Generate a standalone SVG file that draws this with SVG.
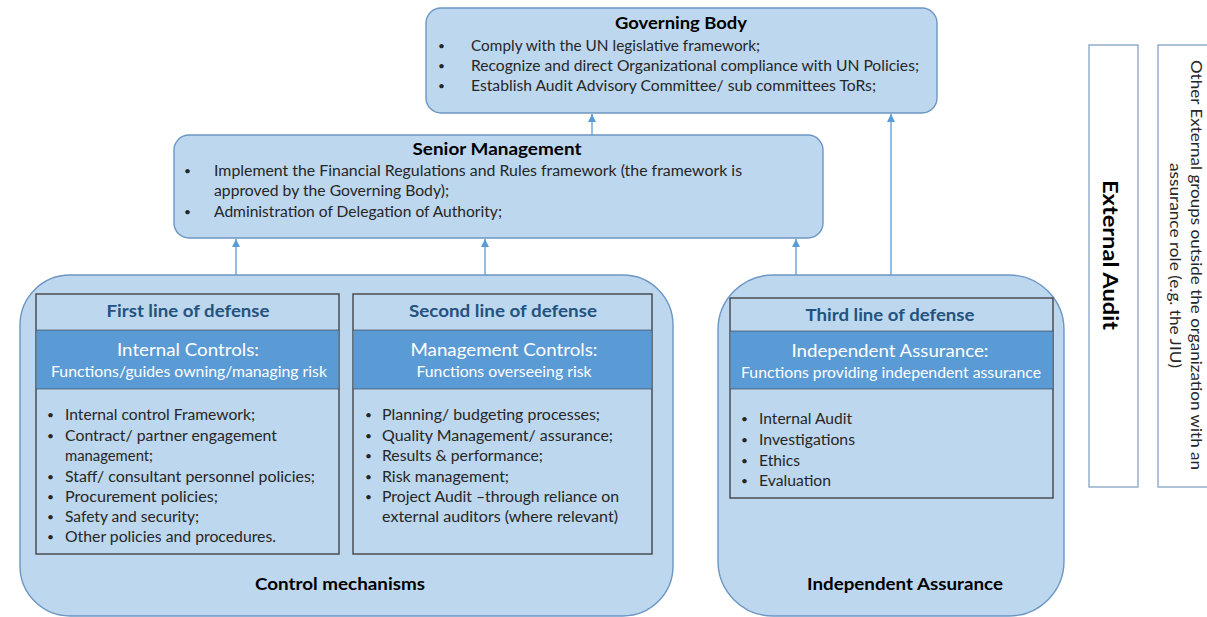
<svg xmlns="http://www.w3.org/2000/svg" width="1207" height="617" viewBox="0 0 1207 617">
<defs>
<marker id="ah" markerUnits="userSpaceOnUse" markerWidth="9" markerHeight="9" refX="8" refY="4" orient="auto">
<path d="M0,0 L8,4 L0,8 z" fill="#5B9BD5"/>
</marker>
<style>
text{font-family:Lato,"Liberation Sans",sans-serif;}
.node{fill:#BDD7EE;stroke:#6C96C4;stroke-width:1.4;}
.lod{fill:#BDD7EE;stroke:#3A3A3A;stroke-width:1.3;}
.band{fill:#5B9BD5;}
.ext{fill:#FFFFFF;stroke:#8EA9C8;stroke-width:1.4;}
.title{font-weight:bold;font-size:17px;fill:#000;text-anchor:middle;}
.body{font-size:14.5px;fill:#262626;}
.bul{font-size:12px;fill:#262626;}
.hdr{font-weight:bold;font-size:17.5px;fill:#24527E;text-anchor:middle;}
.wt1{font-size:18px;fill:#FFFFFF;text-anchor:middle;}
.wt2{font-size:14.5px;fill:#FFFFFF;text-anchor:middle;}
.conn{stroke:#5B9BD5;stroke-width:1.3;fill:none;marker-end:url(#ah);}
</style>
</defs>
<rect width="1207" height="617" fill="#FFFFFF"/>

<g id="control-mechanisms">
<rect class="node" x="20" y="275" width="653" height="341" rx="50" ry="50"/>
<text class="title" x="340" y="590" textLength="170" lengthAdjust="spacingAndGlyphs">Control mechanisms</text>
</g>

<g id="independent-assurance">
<rect class="node" x="718" y="275" width="346" height="341" rx="55" ry="55"/>
<text class="title" x="905" y="590" textLength="196" lengthAdjust="spacingAndGlyphs">Independent Assurance</text>
</g>

<g id="governing-body">
<rect class="node" x="426" y="8" width="511" height="105" rx="15" ry="15"/>
<text class="title" x="681" y="29" textLength="132" lengthAdjust="spacingAndGlyphs">Governing Body</text>
<text class="bul" x="438" y="50">•</text>
<text class="body" x="471" y="51" textLength="289" lengthAdjust="spacingAndGlyphs">Comply with the UN legislative framework;</text>
<text class="bul" x="438" y="70">•</text>
<text class="body" x="471" y="71" textLength="448" lengthAdjust="spacingAndGlyphs">Recognize and direct Organizational compliance with UN Policies;</text>
<text class="bul" x="438" y="90">•</text>
<text class="body" x="471" y="91" textLength="405" lengthAdjust="spacingAndGlyphs">Establish Audit Advisory Committee/ sub committees ToRs;</text>
</g>

<g id="senior-management">
<rect class="node" x="174" y="135" width="649" height="103" rx="15" ry="15"/>
<text class="title" x="497" y="155" textLength="169" lengthAdjust="spacingAndGlyphs">Senior Management</text>
<text class="bul" x="184" y="175">•</text>
<text class="body" x="214" y="176" textLength="528" lengthAdjust="spacingAndGlyphs">Implement the Financial Regulations and Rules framework (the framework is</text>
<text class="body" x="214" y="196" textLength="235" lengthAdjust="spacingAndGlyphs">approved by the Governing Body);</text>
<text class="bul" x="184" y="216">•</text>
<text class="body" x="214" y="217" textLength="288" lengthAdjust="spacingAndGlyphs">Administration of Delegation of Authority;</text>
</g>

<g id="first-line">
<rect class="lod" x="36" y="294" width="303" height="260"/>
<rect class="band" x="36.6" y="330" width="301.8" height="59"/>
<line x1="36" y1="330" x2="339" y2="330" stroke="#3A3A3A" stroke-width="0.6"/>
<line x1="36" y1="389" x2="339" y2="389" stroke="#3A3A3A" stroke-width="0.6"/>
<text class="hdr" x="188" y="317" textLength="163" lengthAdjust="spacingAndGlyphs">First line of defense</text>
<text class="wt1" x="188" y="356" textLength="142" lengthAdjust="spacingAndGlyphs">Internal Controls:</text>
<text class="wt2" x="189" y="377" textLength="276" lengthAdjust="spacingAndGlyphs">Functions/guides owning/managing risk</text>
<text class="bul" x="47" y="419">•</text>
<text class="body" x="65" y="420" textLength="190" lengthAdjust="spacingAndGlyphs">Internal control Framework;</text>
<text class="bul" x="47" y="440">•</text>
<text class="body" x="65" y="441" textLength="212" lengthAdjust="spacingAndGlyphs">Contract/ partner engagement</text>
<text class="body" x="65" y="461" textLength="88" lengthAdjust="spacingAndGlyphs">management;</text>
<text class="bul" x="47" y="481">•</text>
<text class="body" x="65" y="482" textLength="250" lengthAdjust="spacingAndGlyphs">Staff/ consultant personnel policies;</text>
<text class="bul" x="47" y="501">•</text>
<text class="body" x="65" y="502" textLength="153" lengthAdjust="spacingAndGlyphs">Procurement  policies;</text>
<text class="bul" x="47" y="521">•</text>
<text class="body" x="65" y="522" textLength="134" lengthAdjust="spacingAndGlyphs">Safety and security;</text>
<text class="bul" x="47" y="541">•</text>
<text class="body" x="65" y="542" textLength="211" lengthAdjust="spacingAndGlyphs">Other policies and procedures.</text>
</g>

<g id="second-line">
<rect class="lod" x="353" y="294" width="299" height="260"/>
<rect class="band" x="353.6" y="330" width="297.8" height="59"/>
<line x1="353" y1="330" x2="652" y2="330" stroke="#3A3A3A" stroke-width="0.6"/>
<line x1="353" y1="389" x2="652" y2="389" stroke="#3A3A3A" stroke-width="0.6"/>
<text class="hdr" x="503" y="317" textLength="188" lengthAdjust="spacingAndGlyphs">Second line of defense</text>
<text class="wt1" x="504" y="356" textLength="187" lengthAdjust="spacingAndGlyphs">Management Controls:</text>
<text class="wt2" x="504" y="377" textLength="175" lengthAdjust="spacingAndGlyphs">Functions overseeing risk</text>
<text class="bul" x="365" y="419">•</text>
<text class="body" x="382" y="420" textLength="218" lengthAdjust="spacingAndGlyphs">Planning/ budgeting processes;</text>
<text class="bul" x="365" y="440">•</text>
<text class="body" x="382" y="441" textLength="231" lengthAdjust="spacingAndGlyphs">Quality Management/ assurance;</text>
<text class="bul" x="365" y="460">•</text>
<text class="body" x="382" y="461" textLength="161" lengthAdjust="spacingAndGlyphs">Results &amp; performance;</text>
<text class="bul" x="365" y="481">•</text>
<text class="body" x="382" y="482" textLength="127" lengthAdjust="spacingAndGlyphs">Risk management;</text>
<text class="bul" x="365" y="501">•</text>
<text class="body" x="382" y="502" textLength="237" lengthAdjust="spacingAndGlyphs">Project Audit –through reliance on</text>
<text class="body" x="382" y="522" textLength="236" lengthAdjust="spacingAndGlyphs">external auditors (where relevant)</text>
</g>

<g id="third-line">
<rect class="lod" x="730" y="298" width="323" height="200"/>
<rect class="band" x="730.6" y="331" width="321.8" height="58"/>
<line x1="730" y1="331" x2="1053" y2="331" stroke="#3A3A3A" stroke-width="0.6"/>
<line x1="730" y1="389" x2="1053" y2="389" stroke="#3A3A3A" stroke-width="0.6"/>
<text class="hdr" x="890" y="321" textLength="169" lengthAdjust="spacingAndGlyphs">Third line of defense</text>
<text class="wt1" x="890" y="357" textLength="197" lengthAdjust="spacingAndGlyphs">Independent Assurance:</text>
<text class="wt2" x="891" y="378" textLength="300" lengthAdjust="spacingAndGlyphs">Functions providing independent assurance</text>
<text class="bul" x="741" y="423">•</text>
<text class="body" x="759" y="424" textLength="93" lengthAdjust="spacingAndGlyphs">Internal Audit</text>
<text class="bul" x="741" y="444">•</text>
<text class="body" x="759" y="445" textLength="96" lengthAdjust="spacingAndGlyphs">Investigations</text>
<text class="bul" x="741" y="465">•</text>
<text class="body" x="759" y="466" textLength="41" lengthAdjust="spacingAndGlyphs">Ethics</text>
<text class="bul" x="741" y="485">•</text>
<text class="body" x="759" y="486" textLength="72" lengthAdjust="spacingAndGlyphs">Evaluation</text>
</g>

<g id="external-audit">
<rect class="ext" x="1089" y="45" width="49" height="442"/>
<text transform="translate(1103,255) rotate(90)" x="0" y="0" text-anchor="middle" font-weight="bold" font-size="21" fill="#000" textLength="150" lengthAdjust="spacingAndGlyphs">External Audit</text>
</g>

<g id="other-external">
<rect class="ext" x="1158" y="45" width="60" height="442"/>
<text transform="translate(1191,265) rotate(90)" x="0" y="0" text-anchor="middle" font-size="14.5" fill="#262626" textLength="410" lengthAdjust="spacingAndGlyphs">Other External groups outside the organization with an</text>
<text transform="translate(1170,265.5) rotate(90)" x="0" y="0" text-anchor="middle" font-size="14.5" fill="#262626" textLength="205" lengthAdjust="spacingAndGlyphs">assurance role (e.g. the JIU)</text>
</g>

<g id="connectors">
<line class="conn" x1="592" y1="135" x2="592" y2="114"/>
<line class="conn" x1="891" y1="275" x2="891" y2="114"/>
<line class="conn" x1="236" y1="275" x2="236" y2="239"/>
<line class="conn" x1="485" y1="275" x2="485" y2="239"/>
<line class="conn" x1="796" y1="275" x2="796" y2="239"/>
</g>
</svg>
